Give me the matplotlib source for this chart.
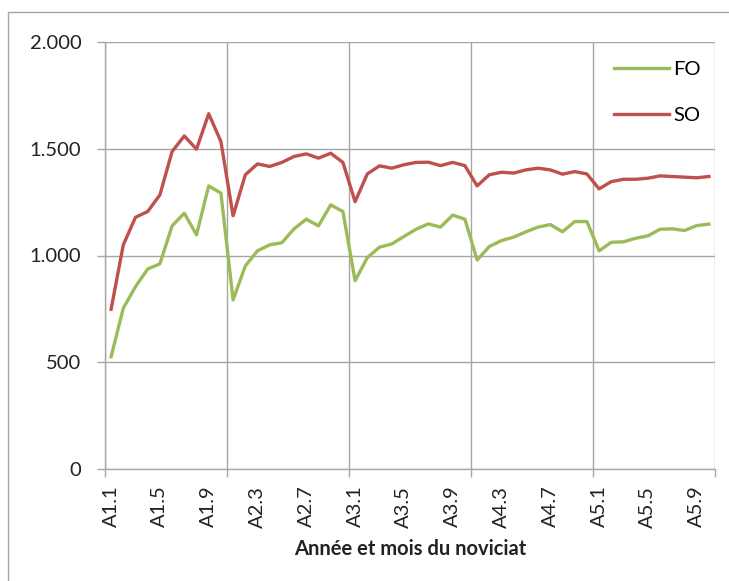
import numpy as np
import matplotlib
matplotlib.use('Agg')
import matplotlib.pyplot as plt
from matplotlib.ticker import FuncFormatter, FixedLocator
from matplotlib.patches import Rectangle

# 5 years x 10 months of novitiate
years = [1, 2, 3, 4, 5]
months = list(range(1, 11))
categories = [f'A{y}.{m}' for y in years for m in months]

fo = [526, 753, 854, 937, 961, 1139, 1198, 1097, 1326, 1292,
      792, 951, 1022, 1050, 1060, 1125, 1170, 1139, 1237, 1206,
      882, 990, 1039, 1054, 1089, 1123, 1148, 1133, 1189, 1170,
      979, 1042, 1070, 1086, 1111, 1133, 1145, 1111, 1159, 1159,
      1022, 1062, 1064, 1081, 1092, 1123, 1125, 1117, 1140, 1147]
so = [748, 1050, 1179, 1206, 1284, 1487, 1560, 1498, 1664, 1534,
      1186, 1378, 1429, 1417, 1436, 1464, 1476, 1456, 1479, 1436,
      1252, 1382, 1420, 1409, 1425, 1436, 1437, 1421, 1436, 1421,
      1326, 1378, 1390, 1386, 1401, 1409, 1401, 1381, 1393, 1382,
      1312, 1346, 1357, 1357, 1362, 1373, 1370, 1367, 1364, 1370]

GREEN = '#9BBB59'
RED = '#C0504D'
GRID = '#a6a6a6'
FS = 14.5

plt.rcParams['font.family'] = ['Lato', 'DejaVu Sans']

W, H = 729, 581
fig = plt.figure(figsize=(W / 100, H / 100), dpi=100)
ax = fig.add_axes((105 / W, 1 - 469 / H, 610 / W, 427 / H))

x = np.arange(len(categories))
ax.plot(x, fo, color=GREEN, lw=2.4, label='FO')
ax.plot(x, so, color=RED, lw=2.4, label='SO')

ax.set_xlim(-0.5, len(categories) - 0.5)
ax.set_ylim(0, 2000)

# y axis
ax.set_yticks(np.arange(0, 2001, 500))
ax.yaxis.set_major_formatter(FuncFormatter(lambda v, p: f'{int(v):,}'.replace(',', '.')))
ax.tick_params(axis='y', length=6, width=1, color=GRID, pad=11, labelsize=FS,
               labelcolor='#222222')

# x axis: labels every 4 months, ticks/grid at year boundaries
lab_pos = x[::4]
ax.set_xticks(lab_pos)
ax.set_xticklabels([categories[i] for i in lab_pos], rotation=90, va='top')
ax.tick_params(axis='x', which='major', length=0, pad=12, labelsize=FS,
               labelcolor='#222222')
bounds = np.arange(-0.5, len(categories), 10)
ax.xaxis.set_minor_locator(FixedLocator(bounds))
ax.tick_params(axis='x', which='minor', length=6, width=1, color=GRID)

ax.grid(axis='y', which='major', color=GRID, lw=1)
ax.grid(axis='x', which='minor', color=GRID, lw=1)
ax.grid(axis='x', which='major', visible=False)
ax.set_axisbelow(True)

for s in ['top', 'right']:
    ax.spines[s].set_visible(False)
for s in ['left', 'bottom']:
    ax.spines[s].set_color(GRID)
    ax.spines[s].set_linewidth(1)

ax.set_xlabel('Année et mois du noviciat', fontsize=FS, fontweight='bold',
              labelpad=8, color='#222222')

ax.legend(loc='upper left', bbox_to_anchor=(614 / W, 1 - 61 / H),
          bbox_transform=fig.transFigure, frameon=False, fontsize=FS,
          handlelength=2.75, handletextpad=0.2, labelspacing=1.45,
          borderpad=0, borderaxespad=0)

# outer chart border
fig.patches.append(Rectangle((8 / W, -0.1), 1.2, 1.1 - 12 / H,
                             transform=fig.transFigure, fill=False,
                             edgecolor=GRID, lw=1))

fig.savefig('out.png', dpi=100)
